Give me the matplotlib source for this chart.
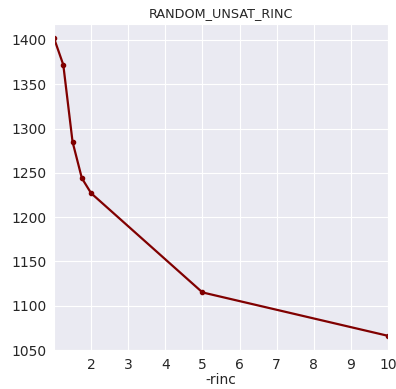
import numpy as np
import matplotlib
matplotlib.use("Agg")
import matplotlib.pyplot as plt
import seaborn as sns

# values
rinc = [1, 1.25, 1.5, 1.75, 2, 5, 10]
cost = [1402, 1372, 1285, 1244, 1227, 1115, 1066]
xticks = [2, 3, 4, 5, 6, 7, 8, 9, 10]
yticks = [1050, 1100, 1150, 1200, 1250, 1300, 1350, 1400]

sns.set_style("darkgrid")
plt.rcParams['font.family'] = ['DejaVu Sans']

fig = plt.figure(figsize=(3.96, 3.89), dpi=100)
ax = fig.add_axes([54 / 396, 39 / 389, 334 / 396, 326 / 389])
ax.plot(rinc, cost, color='#800000', marker='.', markersize=6, linewidth=1.6)
ax.set_xlim(1, 10)
ax.set_ylim(1050, 1418)
ax.set_xticks(xticks)
ax.set_yticks(yticks)
ax.tick_params(labelsize=10, pad=2)
ax.set_title('RANDOM_UNSAT_RINC', fontsize=9.2, pad=5)
ax.set_xlabel('-rinc', fontsize=10, labelpad=1)

fig.savefig('out.png', dpi=100)
